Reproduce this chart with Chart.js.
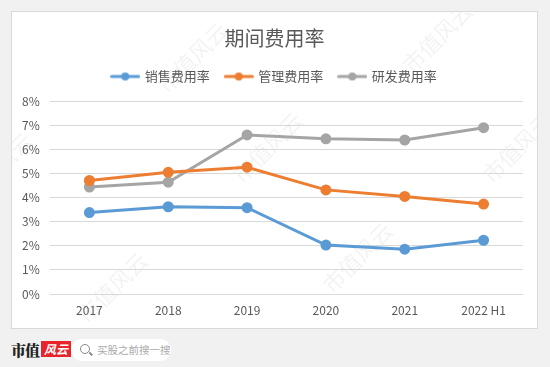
<!DOCTYPE html>
<html>
<head>
<meta charset="utf-8">
<script src="https://cdn.jsdelivr.net/npm/chart.js@4/dist/chart.umd.min.js"></script>
<style>
  html, body { margin: 0; padding: 0; }
  body {
    width: 550px; height: 367px; background: #f1f1f1; position: relative; overflow: hidden;
    font-family: "Noto Sans CJK SC", "Noto Sans", sans-serif;
  }
  #panel {
    position: absolute; left: 11px; top: 11px; width: 525px; height: 316px;
    background: #fff; border: 1px solid #d9d9d9;
  }
  #panel canvas { display: block; }
  #logo {
    position: absolute; left: 11px; top: 340px; height: 18px; display: flex; align-items: center;
  }
  #logo .a { font-family: "Noto Serif CJK SC", "Noto Sans CJK SC", serif; font-weight: 900; font-size: 15px; color: #222; letter-spacing: -1px; }
  #logo .b {
    margin-left: 2px; background: #e8232b; color: #fff; font-size: 12px; font-style: italic;
    height: 16px; line-height: 16px; padding: 0 3px; font-weight: 700;
  }
  #search {
    position: absolute; left: 71px; top: 339px; width: 100px; height: 22px; border-radius: 11px;
    background: #fff; font-size: 10.5px; color: #aaa; line-height: 22px;
  }
  #search .ic {
    position: absolute; left: 9px; top: 5px; width: 8px; height: 8px; border: 1.5px solid #888; border-radius: 50%;
  }
  #search .ic::after {
    content: ""; position: absolute; left: 8px; top: 8px; width: 4px; height: 1.5px; background: #888; transform: rotate(45deg);
  }
  #search span { position: absolute; left: 26px; }
</style>
</head>
<body>
<div id="panel"><canvas id="chart" width="525" height="316"></canvas></div>
<div id="logo"><span class="a">市值</span><span class="b">风云</span></div>
<div id="search"><div class="ic"></div><span>买股之前搜一搜</span></div>
<script>
// ------------------------------
// DATA
// ------------------------------
const years = ["2017", "2018", "2019", "2020", "2021", "2022 H1"];
const salesRate = [3.38, 3.62, 3.58, 2.03, 1.86, 2.23];
const adminRate = [4.71, 5.05, 5.26, 4.32, 4.05, 3.73];
const rdRate = [4.44, 4.64, 6.60, 6.44, 6.39, 6.90];
const seriesNames = ["销售费用率", "管理费用率", "研发费用率"];
const colors = ["#5b9bd5", "#ed7d31", "#a5a5a5"];

const textColor = "#595959";
const fontFamily = '"Noto Sans CJK SC", "Noto Sans", sans-serif';

// legend marker: line with a dot, like the spreadsheet legend
function legendMarker(color) {
  const c = document.createElement("canvas");
  c.width = 30; c.height = 10;
  const g = c.getContext("2d");
  g.strokeStyle = color; g.lineWidth = 3; g.lineCap = "round";
  g.beginPath(); g.moveTo(1.5, 5); g.lineTo(28.5, 5); g.stroke();
  g.fillStyle = color;
  g.beginPath(); g.arc(15, 5, 4, 0, Math.PI * 2); g.fill();
  return c;
}

// faint diagonal watermark
const watermark = {
  id: "watermark",
  beforeDraw(chart) {
    const ctx = chart.ctx;
    ctx.save();
    ctx.fillStyle = "rgba(0,0,0,0.05)";
    ctx.font = "22px " + fontFamily;
    const spots = [[175, 40], [420, 20], [95, 270], [340, 240], [250, 130], [500, 130], [-20, 150], [560, 280]];
    spots.forEach(([x, y]) => {
      ctx.save();
      ctx.translate(x, y);
      ctx.rotate(-Math.PI / 4);
      ctx.fillText("市值风云", -44, 8);
      ctx.restore();
    });
    ctx.restore();
  }
};

const rates = [salesRate, adminRate, rdRate];

new Chart(document.getElementById("chart"), {
  type: "line",
  data: {
    labels: years,
    datasets: rates.map((values, i) => ({
      label: seriesNames[i],
      data: values,
      borderColor: colors[i],
      backgroundColor: colors[i],
      borderWidth: 3,
      pointRadius: 4,
      pointHoverRadius: 4,
      pointStyle: "circle",
      tension: 0
    }))
  },
  options: {
    responsive: false,
    animation: false,
    layout: { padding: { left: 14, right: 14, bottom: 0, top: 0 } },
    plugins: {
      title: {
        display: true,
        text: "期间费用率",
        color: textColor,
        font: { family: fontFamily, size: 20, weight: "normal" },
        padding: { top: 14, bottom: 4 }
      },
      // empty spacer between legend and plot
      subtitle: {
        display: true,
        text: "",
        weight: 500,
        font: { size: 1 },
        padding: { top: 0, bottom: 7 }
      },
      legend: {
        labels: {
          color: textColor,
          font: { family: fontFamily, size: 13 },
          usePointStyle: true,
          pointStyleWidth: 26,
          boxHeight: 10,
          padding: 16,
          generateLabels(chart) {
            return chart.data.datasets.map((ds, i) => ({
              text: ds.label,
              fillStyle: colors[i],
              strokeStyle: colors[i],
              lineWidth: 0,
              pointStyle: legendMarker(colors[i]),
              fontColor: textColor,
              datasetIndex: i
            }));
          }
        }
      },
      tooltip: { enabled: false }
    },
    scales: {
      x: {
        offset: true,
        grid: { display: false, drawTicks: false },
        border: { display: false },
        ticks: { color: textColor, font: { family: fontFamily, size: 12 }, padding: 9 },
        afterFit(scale) { scale.height = 34; }
      },
      y: {
        min: 0,
        max: 8,
        ticks: {
          stepSize: 1,
          color: textColor,
          font: { family: fontFamily, size: 12 },
          // mirrored with a negative padding so labels sit left of the plot without clipping
          mirror: true,
          padding: -28,
          callback: v => v + "%"
        },
        grid: { color: "#d9d9d9", lineWidth: 1, drawTicks: false },
        border: { display: false },
        afterFit(scale) { scale.width = 24; }
      }
    }
  },
  plugins: [watermark]
});
</script>
</body>
</html>
